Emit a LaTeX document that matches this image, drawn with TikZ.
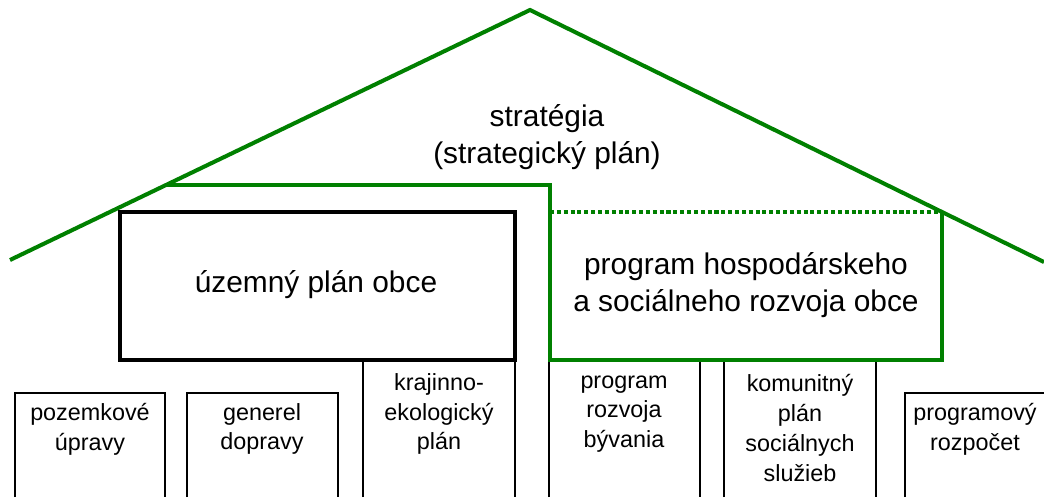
\documentclass[tikz,border=0pt]{standalone}
\usepackage{fontspec}
\setmainfont{Liberation Sans}
\usepackage{tikz}
\definecolor{roofgreen}{RGB}{0,128,0}

\begin{document}
\begin{tikzpicture}[x=0.02cm, y=-0.02cm,
    roof/.style={roofgreen, line width=2.3pt},
    mainbox/.style={black, line width=2.2pt},
    subbox/.style={black, line width=0.8pt},
    bigtext/.style={font=\fontsize{17}{21}\selectfont, align=center, inner sep=0pt},
    smalltext/.style={font=\fontsize{13.3}{17}\selectfont, align=center, inner sep=0pt}]
    \useasboundingbox (0,0) rectangle (1044,497);

    % Draw the small boxes under the house
    \draw[subbox] (15,497) |- (165,393) -- (165,497);
    \draw[subbox] (187,497) |- (338,393) -- (338,497);
    \draw[subbox] (363,497) |- (515,360) -- (515,497);
    \draw[subbox] (549,497) |- (700,360) -- (700,497);
    \draw[subbox] (724,497) |- (876,360) -- (876,497);
    \draw[subbox] (905,497) |- (1044,393);

    % Draw the roof and the green program part
    \draw[roof] (10,260) -- (530,10) -- (1044,262);
    \draw[roof] (166,185) -- (550,185) -- (550,360) -- (942,360) -- (942,212);
    \draw[roof, dash pattern=on 2.3pt off 1.6pt] (550,212) -- (942,212);

    % Draw the black box
    \draw[mainbox] (120,212) rectangle (515,360);

    % Label the parts
    \node[bigtext] (strategia) at (547,137) {strat\'egia\\(strategick\'y pl\'an)};
    \node[bigtext] (uzemny) at (316,285) {\'uzemn\'y pl\'an obce};
    \node[bigtext] (program) at (746,285) {program hospod\'arskeho\\a soci\'alneho rozvoja obce};

    \node[smalltext] (pozemkove) at (90,429) {pozemkov\'e\\\'upravy};
    \node[smalltext] (generel) at (262,429) {generel\\dopravy};
    \node[smalltext] (krajinno) at (439,414) {krajinno-\\ekologick\'y\\pl\'an};
    \node[smalltext] (byvanie) at (624,414) {program\\rozvoja\\b\'yvania};
    \node[smalltext] (komunitny) at (800,428) {komunitn\'y\\pl\'an\\soci\'alnych\\slu\v{z}ieb};
    \node[smalltext] (rozpocet) at (975,429) {programov\'y\\rozpo\v{c}et};
\end{tikzpicture}
\end{document}
